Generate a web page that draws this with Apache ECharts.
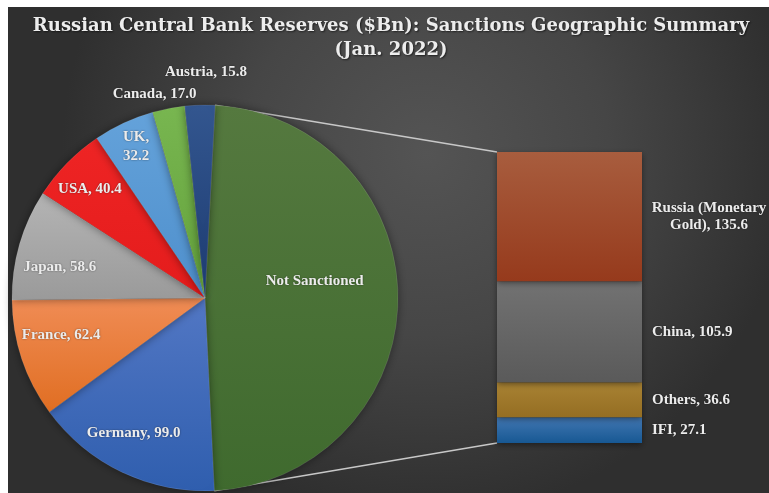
<!DOCTYPE html>
<html>
<head>
<meta charset="utf-8">
<script src="https://cdn.jsdelivr.net/npm/echarts@6/dist/echarts.min.js"></script>
<style>
html,body{margin:0;padding:0;background:#fff;}
#chart{width:769px;height:493px;}
</style>
</head>
<body>
<div id="chart"></div>
<script>
// ---- data ----
var pieCategories = ['Not Sanctioned', 'Germany', 'France', 'Japan', 'USA', 'UK', 'Canada', 'Austria'];
var pieValues = [305.2, 99.0, 62.4, 58.6, 40.4, 32.2, 17.0, 15.8];
var barCategories = ['Russia (Monetary Gold)', 'China', 'Others', 'IFI'];
var barValues = [135.6, 105.9, 36.6, 27.1];
var titleText = 'Russian Central Bank Reserves ($Bn): Sanctions Geographic Summary\n(Jan. 2022)';

// ---- layout / style ----
var CX = 205, CY = 298, R = 193, START = 3; // start angle in degrees clockwise from 12 o'clock
var GRID = {left: 497, top: 152, width: 145, height: 291};
var pieLabelText = ['Not Sanctioned', 'Germany, 99.0', 'France, 62.4', 'Japan, 58.6', 'USA, 40.4', 'UK,\n32.2', 'Canada, 17.0', 'Austria, 15.8'];
var pieLabelTweak = [[0.575, -9], [0.79, 2.4], [0.77, 4], [0.77, -4], [0.82, -1], [0.86, 0.4], [1.09, -3], [1.17, 1.75]];
var pieColors = [
  ['#55793f', '#3f6a2e'],
  ['#5277c4', '#2f5eae'],
  ['#f08c55', '#e06e22'],
  ['#b4b4b4', '#9a9a9a'],
  ['#ee2424', '#e41c1c'],
  ['#64a2da', '#4e8fcc'],
  ['#78b650', '#64a23c'],
  ['#33568f', '#1d3c72']
];
var barColors = [
  ['#a85d3e', '#963a1c'],
  ['#727272', '#5a5a5a'],
  ['#a88234', '#956e22'],
  ['#4277b2', '#175893']
];
var FONT = '"Liberation Serif", "Times New Roman", serif';
var TITLE_FONT = '"DejaVu Serif", "Liberation Serif", serif';
var LABEL_COLOR = '#ececec';

function vgrad(c) {
  return new echarts.graphic.LinearGradient(0, 0, 0, 1, [{offset: 0, color: c[0]}, {offset: 1, color: c[1]}]);
}

var total = pieValues.reduce(function (a, b) { return a + b; }, 0);
var midAngles = [];
(function () {
  var cum = 0;
  for (var i = 0; i < pieValues.length; i++) {
    midAngles.push(START + 360 * (cum + pieValues[i] / 2) / total);
    cum += pieValues[i];
  }
})();
var nsEndAngle = START + 360 * pieValues[0] / total;
function pt(angleDeg, rad) {
  var a = angleDeg * Math.PI / 180;
  return [CX + rad * Math.sin(a), CY - rad * Math.cos(a)];
}

var pieData = pieCategories.map(function (name, i) {
  return {
    name: name,
    value: pieValues[i],
    itemStyle: {color: vgrad(pieColors[i])}
  };
});

var barSum = barValues.reduce(function (a, b) { return a + b; }, 0);
var barSeries = [];
for (var k = barCategories.length - 1; k >= 0; k--) {
  (function (i) {
    var lbl = {
      show: true,
      position: 'right',
      distance: 10,
      color: LABEL_COLOR,
      fontFamily: FONT,
      fontWeight: 'bold',
      fontSize: 15,
      lineHeight: 17,
      textShadowColor: 'rgba(0,0,0,0.5)',
      textShadowBlur: 2,
      formatter: function () {
        var n = barCategories[i];
        if (n === 'Russia (Monetary Gold)') return 'Russia (Monetary\nGold), ' + barValues[i].toFixed(1);
        return n + ', ' + barValues[i].toFixed(1);
      }
    };
    if (i === 0) { lbl.align = 'center'; lbl.offset = [57, 0]; }
    barSeries.push({
      type: 'bar',
      name: barCategories[i],
      stack: 'total',
      barWidth: '100%',
      data: [barValues[i]],
      itemStyle: {color: vgrad(barColors[i]), shadowBlur: 6, shadowColor: 'rgba(0,0,0,0.45)', shadowOffsetY: 2},
      label: lbl,
      z: 3
    });
  })(k);
}

var p1 = pt(START, R), p2 = pt(nsEndAngle, R);

var chart = echarts.init(document.getElementById('chart'), null, {renderer: 'canvas'});
chart.setOption({
  backgroundColor: '#ffffff',
  animation: false,
  title: {
    text: titleText,
    left: 386,
    top: 9,
    textAlign: 'center',
    textStyle: {
      fontFamily: TITLE_FONT,
      fontWeight: 'bold',
      fontSize: 18,
      lineHeight: 24,
      color: '#ededed',
      textShadowColor: 'rgba(0,0,0,0.6)',
      textShadowBlur: 2,
      textShadowOffsetX: 1,
      textShadowOffsetY: 1
    }
  },
  graphic: [
    {
      type: 'rect', z: -10, silent: true,
      shape: {x: 8, y: 7, width: 761, height: 486},
      style: {
        fill: new echarts.graphic.RadialGradient(0.55, 0.3, 0.75, [
          {offset: 0, color: '#545454'},
          {offset: 0.5, color: '#464646'},
          {offset: 1, color: '#2f2f2f'}
        ])
      }
    },
    {type: 'line', z: 1, silent: true, shape: {x1: p1[0], y1: p1[1], x2: GRID.left, y2: GRID.top}, style: {stroke: '#c8c8c8', lineWidth: 1.5}},
    {type: 'line', z: 1, silent: true, shape: {x1: p2[0], y1: p2[1], x2: GRID.left, y2: GRID.top + GRID.height}, style: {stroke: '#c8c8c8', lineWidth: 1.5}}
  ],
  grid: {left: GRID.left, top: GRID.top, width: GRID.width, height: GRID.height, containLabel: false},
  xAxis: {type: 'category', data: ['Not Sanctioned'], show: false},
  yAxis: {type: 'value', min: 0, max: barSum, show: false},
  series: [
    {
      type: 'pie',
      center: [CX, CY],
      radius: [0, R],
      startAngle: 90 - START,
      clockwise: true,
      avoidLabelOverlap: false,
      data: pieData,
      itemStyle: {borderColor: 'rgba(255,255,255,0.18)', borderWidth: 0.6, shadowBlur: 10, shadowColor: 'rgba(0,0,0,0.45)'},
      label: {
        show: true,
        position: 'inside',
        color: LABEL_COLOR,
        fontFamily: FONT,
        fontWeight: 'bold',
        fontSize: 15,
        lineHeight: 19,
        textShadowColor: 'rgba(0,0,0,0.5)',
        textShadowBlur: 2,
        formatter: function (p) { return pieLabelText[p.dataIndex]; }
      },
      labelLine: {show: false},
      emphasis: {disabled: true},
      labelLayout: function (params) {
        var i = params.dataIndex;
        var t = pieLabelTweak[i];
        var q = pt(midAngles[i] + t[1], t[0] * R);
        return {x: q[0], y: q[1], align: 'center', verticalAlign: 'middle'};
      },
      z: 2
    }
  ].concat(barSeries)
});
</script>
</body>
</html>
